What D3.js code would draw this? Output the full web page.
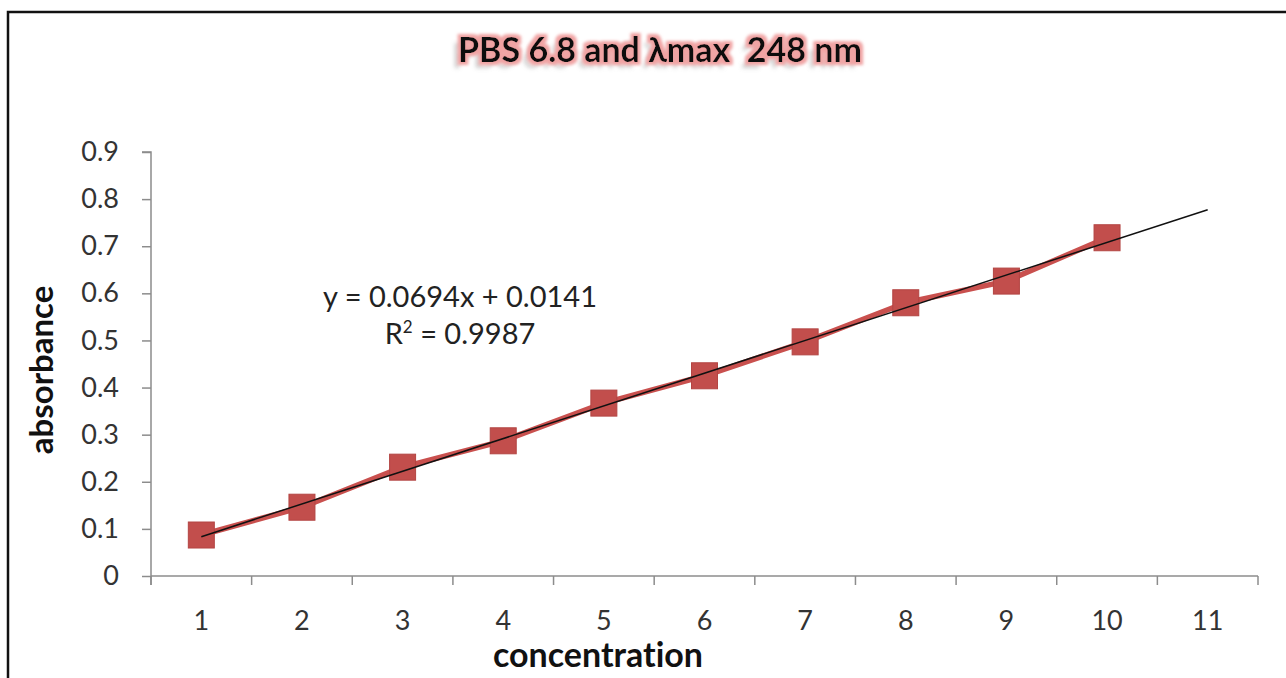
<!DOCTYPE html>
<html>
<head>
<meta charset="utf-8">
<script src="https://cdn.jsdelivr.net/npm/d3@7"></script>
<style>
  body { margin: 0; background: #fff; }
  svg text { font-family: Lato, "Open Sans", sans-serif; font-variant-ligatures: none; }
</style>
</head>
<body>
<div id="chart"></div>
<script>
(function(){

var width = 1286,
    height = 678;

// data
var categories = ["1", "2", "3", "4", "5", "6", "7", "8", "9", "10", "11"];
var conc = [1, 2, 3, 4, 5, 6, 7, 8, 9, 10];
var absorbance = [0.087, 0.146, 0.231, 0.287, 0.367, 0.425, 0.497, 0.580, 0.626, 0.718];
var yTicks = [0, 0.1, 0.2, 0.3, 0.4, 0.5, 0.6, 0.7, 0.8, 0.9];
var slope = 0.0694, intercept = 0.0141;
var trendRange = [1, 11];

var svg = d3.select("#chart")
  .append("svg")
  .attr("width", width)
  .attr("height", height);

var defs = svg.append("defs");
var glow = defs.append("filter").attr("id", "glow")
  .attr("x", "-10%").attr("y", "-40%").attr("width", "120%").attr("height", "180%");
glow.append("feMorphology").attr("in", "SourceAlpha").attr("operator", "dilate").attr("radius", 2.5).attr("result", "d");
glow.append("feGaussianBlur").attr("in", "d").attr("stdDeviation", 1.5).attr("result", "b");
glow.append("feFlood").attr("flood-color", "#f0a3a3").attr("result", "c");
glow.append("feComposite").attr("in", "c").attr("in2", "b").attr("operator", "in").attr("result", "g");
glow.append("feOffset").attr("in", "SourceAlpha").attr("dx", -6).attr("dy", 6).attr("result", "o");
glow.append("feGaussianBlur").attr("in", "o").attr("stdDeviation", 2).attr("result", "ob");
glow.append("feFlood").attr("flood-color", "#999").attr("flood-opacity", 0.5).attr("result", "sc");
glow.append("feComposite").attr("in", "sc").attr("in2", "ob").attr("operator", "in").attr("result", "s");
var m = glow.append("feMerge");
m.append("feMergeNode").attr("in", "s");
m.append("feMergeNode").attr("in", "g");
m.append("feMergeNode").attr("in", "SourceGraphic");

// outer frame
svg.append("rect")
  .attr("x", 8).attr("y", 12)
  .attr("width", 1400).attr("height", 800)
  .attr("fill", "none")
  .attr("stroke", "#111")
  .attr("stroke-width", 2.5);

var x = d3.scaleBand()
  .domain(categories)
  .range([151, 1258]);

var y = d3.scaleLinear()
  .domain([0, 0.9])
  .range([576, 152]);

function xc(v){ return x(String(v)) + x.bandwidth() / 2; }

// x axis
var xAxis = svg.append("g")
  .attr("transform", "translate(0," + y(0) + ")");
xAxis.append("line")
  .attr("x1", 151).attr("x2", 1258)
  .attr("stroke", "#8c8c8c").attr("stroke-width", 1.5);
xAxis.selectAll(".tk")
  .data(d3.range(categories.length + 1))
  .enter().append("line")
  .attr("x1", function(i){ return 151 + i * x.step(); })
  .attr("x2", function(i){ return 151 + i * x.step(); })
  .attr("y1", 0).attr("y2", 9)
  .attr("stroke", "#8c8c8c").attr("stroke-width", 1.5);
xAxis.selectAll(".lb")
  .data(categories)
  .enter().append("text")
  .attr("x", function(d){ return x(d) + x.bandwidth() / 2; })
  .attr("y", 54)
  .attr("text-anchor", "middle")
  .attr("font-size", 27)
  .attr("fill", "#333")
  .text(function(d){ return d; });

// y axis
var yAxis = svg.append("g")
  .attr("transform", "translate(151,0)")
  .call(d3.axisLeft(y).tickValues(yTicks).tickSize(9).tickPadding(23)
    .tickFormat(function(d){ return d === 0 ? "0" : d3.format(".1f")(d); }));
yAxis.select(".domain").attr("stroke", "#8c8c8c").attr("stroke-width", 1.5)
  .attr("d", "M-9," + y(0.9) + "H0V" + (y(0) + 9));
yAxis.selectAll(".tick line").attr("stroke", "#8c8c8c").attr("stroke-width", 1.5);
yAxis.selectAll(".tick text")
  .attr("font-size", 27)
  .attr("fill", "#333")
  .style("font-family", "Lato, 'Open Sans', sans-serif");

// series line
var line = d3.line()
  .x(function(d){ return xc(d[0]); })
  .y(function(d){ return y(d[1]); });
var pts = conc.map(function(c, i){ return [c, absorbance[i]]; });

svg.append("path")
  .datum(pts)
  .attr("d", line)
  .attr("fill", "none")
  .attr("stroke", "#c9504e")
  .attr("stroke-width", 5.5)
  .attr("stroke-linejoin", "round");

// markers
svg.selectAll(".mk")
  .data(pts)
  .enter().append("rect")
  .attr("x", function(d){ return xc(d[0]) - 13; })
  .attr("y", function(d){ return y(d[1]) - 13; })
  .attr("width", 26).attr("height", 26)
  .attr("fill", "#c24e4c")
  .attr("stroke", "#b34543")
  .attr("stroke-width", 1);

// linear trendline
svg.append("path")
  .datum(trendRange.map(function(c){ return [c, slope * c + intercept]; }))
  .attr("d", line)
  .attr("fill", "none")
  .attr("stroke", "#111")
  .attr("stroke-width", 1.5);

// equation
svg.append("text")
  .attr("x", 460).attr("y", 307)
  .attr("text-anchor", "middle")
  .attr("font-size", 29)
  .attr("fill", "#222")
  .text("y = 0.0694x + 0.0141");
var r2 = svg.append("text")
  .attr("x", 460).attr("y", 344)
  .attr("text-anchor", "middle")
  .attr("font-size", 29)
  .attr("fill", "#222");
r2.append("tspan").text("R");
r2.append("tspan").attr("font-size", 17).attr("dy", -11).text("2");
r2.append("tspan").attr("dy", 11).text(" = 0.9987");

// title
svg.append("text")
  .attr("x", 660).attr("y", 62)
  .attr("text-anchor", "middle")
  .attr("font-size", 34)
  .attr("font-weight", "bold")
  .attr("fill", "#111")
  .attr("filter", "url(#glow)")
  .text("PBS 6.8 and \u03bbmax \u00a0248 nm");

// axis titles
svg.append("text")
  .attr("x", 598).attr("y", 667)
  .attr("text-anchor", "middle")
  .attr("font-size", 34)
  .attr("font-weight", "bold")
  .attr("fill", "#111")
  .text("concentration");

svg.append("text")
  .attr("transform", "translate(53,370) rotate(-90)")
  .attr("text-anchor", "middle")
  .attr("font-size", 33)
  .attr("font-weight", "bold")
  .attr("fill", "#111")
  .text("absorbance");

})();
</script>
</body>
</html>
